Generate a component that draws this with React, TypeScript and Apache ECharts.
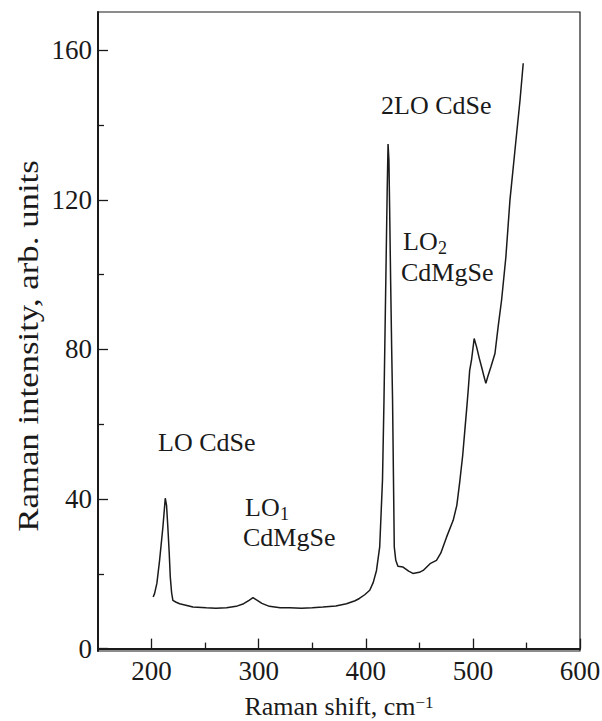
import React, { useEffect, useRef } from "react";
import * as echarts from "echarts";

// Raman shift (cm^-1) and intensity (arb. units)
const ramanShift = [
  201.5, 202.8, 205, 207.5, 210.6, 212.8, 214, 215.2, 216.5, 217.5, 218.7, 219.9,
  223, 226.2, 232, 238.6, 251, 260, 270, 279, 286, 291, 294.7, 298, 303, 310,
  320, 329, 340, 350, 360, 372, 382, 390, 394, 399, 403.7, 407, 410, 413,
  415.6, 416.3, 417, 418, 419, 420, 420.8, 421.6, 422.3, 423.2, 424.2, 425,
  426.6, 428, 430, 434.8, 440, 444, 450, 453.6, 460, 466, 470, 475.4, 481.6,
  485, 487.9, 490.5, 492.5, 494.5, 495.6, 497, 498.7, 501.2, 503.5, 506,
  508.5, 510.5, 512.1, 514, 517, 520.6, 523.5, 526.8, 530.8, 534.6, 539.3,
  544, 547,
];
const intensity = [
  13.8, 14.7, 17.5, 23.6, 32.5, 40.2, 38.3, 32.5, 25.5, 19.1, 15.0, 12.9,
  12.4, 12.0, 11.6, 11.1, 10.9, 10.8, 10.9, 11.3, 12.0, 12.9, 13.6, 13.0, 12.1, 11.3,
  10.9, 10.9, 10.8, 10.9, 11.1, 11.4, 12.0, 12.8, 13.4, 14.4, 15.6, 17.7, 20.9, 27.2,
  45.0, 55.7, 66.4, 85.1, 103.8, 122.6, 134.9, 130.6, 117.2, 98.5, 79.8, 66.4,
  27.2, 23.6, 22.0, 21.8, 20.7, 20.1, 20.4, 20.9, 22.7, 23.6, 25.5, 29.8, 34.3,
  38.3, 45.0, 51.7, 58.4, 65.1, 69.0, 74.4, 77.1, 82.9, 80.6, 77.6,
  74.9, 72.6, 70.9, 72.8, 75.5, 78.9, 85.9, 93.2, 104.7, 119.9, 133.3,
  146.6, 156.5,
];

const xMajorTicks = [200, 300, 400, 500, 600];
const xMinorTicks = [250, 350, 450, 550];
const yMajorTicks = [0, 40, 80, 120, 160];
const yMinorTicks = [20, 60, 100, 140];

const xTitle = "Raman shift, cm";
const xTitleSup = "\u22121";
const yTitle = "Raman intensity, arb. units";

const FONT = '"Liberation Serif", "Times New Roman", serif';
const INK = "#1a1a1a";

export default function App() {
  const ref = useRef<HTMLDivElement>(null);

  useEffect(() => {
    document.body.style.margin = "0";
    if (!ref.current) return;
    const chart = echarts.init(ref.current, undefined, { renderer: "svg" });

    const xRange = { min: 150, max: 600 };
    const yRange = { min: -0.64, max: 170.2 };

    const txt = (text: string, x: number, y: number, size = 26) => ({
      type: "text",
      x,
      y,
      silent: true,
      style: {
        text,
        fill: INK,
        fontSize: size,
        fontFamily: FONT,
        align: "left",
        verticalAlign: "middle",
      },
    });

    chart.setOption({
      animation: false,
      backgroundColor: "#ffffff",
      grid: {
        left: 98,
        right: 22,
        top: 12,
        bottom: 70,
        show: true,
        borderColor: INK,
        borderWidth: 1.2,
        containLabel: false,
        outerBoundsMode: "none",
      },
      xAxis: [
        {
          type: "value",
          ...xRange,
          position: "bottom",
          name: `{a|${xTitle}}{b|${xTitleSup}}`,
          nameLocation: "middle",
          nameGap: 43,
          nameTextStyle: {
            color: INK,
            fontFamily: FONT,
            rich: {
              a: { fontSize: 26, fontFamily: FONT, color: INK, lineHeight: 24 },
              b: { fontSize: 17, fontFamily: FONT, color: INK, verticalAlign: "top", lineHeight: 8 },
            },
          },
          axisLine: { show: true, lineStyle: { color: INK, width: 2 } },
          axisTick: {
            show: true,
            inside: true,
            length: 10,
            customValues: xMajorTicks,
            lineStyle: { color: INK, width: 1.3 },
          },
          axisLabel: {
            show: true,
            customValues: xMajorTicks,
            color: INK,
            fontFamily: FONT,
            fontSize: 27,
            margin: 6,
          },
          splitLine: { show: false },
        },
        {
          type: "value",
          ...xRange,
          position: "bottom",
          axisLine: { show: false },
          axisTick: {
            show: true,
            inside: true,
            length: 6,
            customValues: xMinorTicks,
            lineStyle: { color: INK, width: 1.3 },
          },
          axisLabel: { show: false },
          splitLine: { show: false },
        },
      ],
      yAxis: [
        {
          type: "value",
          ...yRange,
          position: "left",
          axisLine: { show: true, lineStyle: { color: INK, width: 2 } },
          axisTick: {
            show: true,
            inside: true,
            length: 10,
            customValues: yMajorTicks,
            lineStyle: { color: INK, width: 1.3 },
          },
          axisLabel: {
            show: true,
            customValues: yMajorTicks,
            color: INK,
            fontFamily: FONT,
            fontSize: 27,
            margin: 6,
          },
          splitLine: { show: false },
        },
        {
          type: "value",
          ...yRange,
          position: "left",
          axisLine: { show: false },
          axisTick: {
            show: true,
            inside: true,
            length: 6,
            customValues: yMinorTicks,
            lineStyle: { color: INK, width: 1.3 },
          },
          axisLabel: { show: false },
          splitLine: { show: false },
        },
      ],
      series: [
        {
          type: "line",
          xAxisIndex: 0,
          yAxisIndex: 0,
          data: ramanShift.map((x, i) => [x, intensity[i]]),
          showSymbol: false,
          symbol: "none",
          smooth: false,
          lineStyle: { color: INK, width: 1.5 },
          silent: true,
        },
      ],
      graphic: [
        {
          type: "text",
          x: 28,
          y: 346,
          rotation: Math.PI / 2,
          scaleX: 1.16,
          silent: true,
          style: {
            text: yTitle,
            fill: INK,
            fontSize: 30,
            fontFamily: FONT,
            align: "center",
            verticalAlign: "middle",
          },
        },
        txt("2LO CdSe", 381, 105),
        txt("LO", 403, 241),
        txt("2", 438, 248, 18),
        txt("CdMgSe", 401, 272.5),
        txt("LO CdSe", 158, 442.5),
        txt("LO", 245, 507.5),
        txt("1", 280, 514, 18),
        txt("CdMgSe", 243, 537.5),
      ],
    });

    return () => chart.dispose();
  }, []);

  return <div ref={ref} style={{ width: 602, height: 721 }} />;
}
